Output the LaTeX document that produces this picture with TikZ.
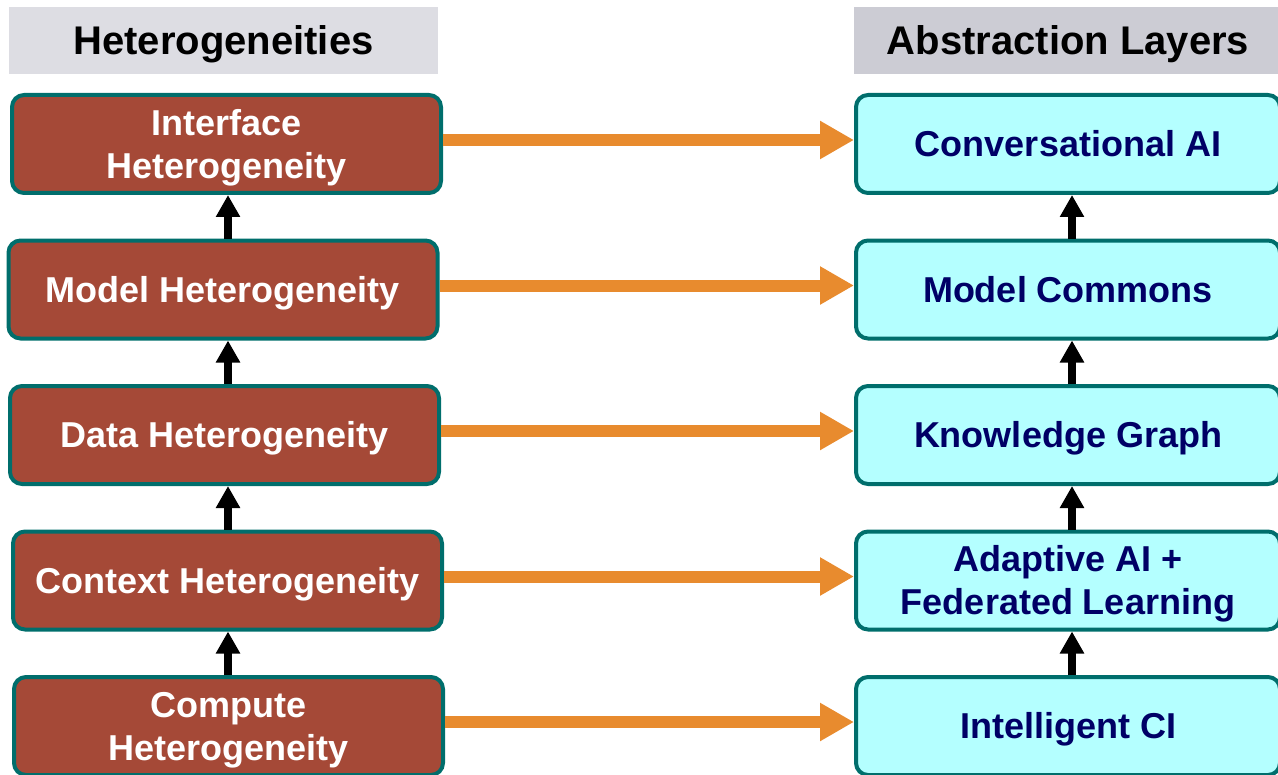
\documentclass[tikz,border=0pt]{standalone}
\usepackage{fontspec}
\setmainfont{Liberation Sans}
\usetikzlibrary{positioning,arrows.meta}
\definecolor{brick}{RGB}{165,73,55}
\definecolor{tealborder}{RGB}{0,110,108}
\definecolor{paleCyan}{RGB}{180,255,255}
\definecolor{darknavy}{RGB}{0,0,102}
\definecolor{arrowOrange}{RGB}{232,139,46}
\definecolor{headL}{RGB}{221,221,227}
\definecolor{headR}{RGB}{204,204,212}

\begin{document}
\begin{tikzpicture}[x=0.5pt, y=-0.5pt,
    hetero/.style = {draw=tealborder, line width=2pt, fill=brick, rounded corners=6pt,
                     minimum width=214.5pt, minimum height=49pt, inner sep=0pt,
                     text=white, align=center, text height=12.9pt, text depth=0pt,
                     font=\fontsize{18}{21.5}\selectfont\bfseries},
    layer/.style  = {hetero, fill=paleCyan, text=darknavy, minimum width=212pt},
    twoline/.style = {text height=34.4pt},
    header/.style = {minimum width=214.5pt, minimum height=33.5pt, inner sep=0pt,
                     text height=14.3pt, text depth=0pt,
                     font=\fontsize{20}{24}\selectfont\bfseries},
    up/.style     = {-{Triangle[width=11.5pt,length=11pt]}, line width=4pt},
    across/.style = {-{Triangle[width=18pt,length=17pt]}, line width=6pt, draw=arrowOrange}]
    \useasboundingbox (0,0) rectangle (1278,775);

    % headers
    \node[header, fill=headL] (HT) at (223.5,40.5) {Heterogeneities};
    \node[header, fill=headR] (AT) at (1068,40.5) {Abstraction Layers};

    % heterogeneities
    \node[hetero, twoline] (H1) at (226.5,144) {Interface\\Heterogeneity};
    \node[hetero] (H2) at (223,289.5) {Model Heterogeneity};
    \node[hetero] (H3) at (224.5,435) {Data Heterogeneity};
    \node[hetero] (H4) at (227.5,580.5) {Context Heterogeneity};
    \node[hetero, twoline] (H5) at (228.5,726) {Compute\\Heterogeneity};

    % abstraction layers
    \node[layer] (L1) at (1068,144) {Conversational AI};
    \node[layer] (L2) at (1068,289.5) {Model Commons};
    \node[layer] (L3) at (1068,435) {Knowledge Graph};
    \node[layer, twoline] (L4) at (1068,580.5) {Adaptive AI +\\Federated Learning};
    \node[layer] (L5) at (1068,726) {Intelligent CI};

    % vertical arrow lines
    \coordinate (LX) at (228,0);
    \coordinate (RX) at (1072,0);
    \foreach \a/\b in {5/4,4/3,3/2,2/1} {
        \draw[up] (LX |- H\a.north) -- (LX |- H\b.south);
        \draw[up] (RX |- L\a.north) -- (RX |- L\b.south);
    }

    \foreach \i in {1,...,5}
        \draw[across] ([yshift=2pt]H\i.east) -- ([yshift=2pt]L\i.west);
\end{tikzpicture}
\end{document}
